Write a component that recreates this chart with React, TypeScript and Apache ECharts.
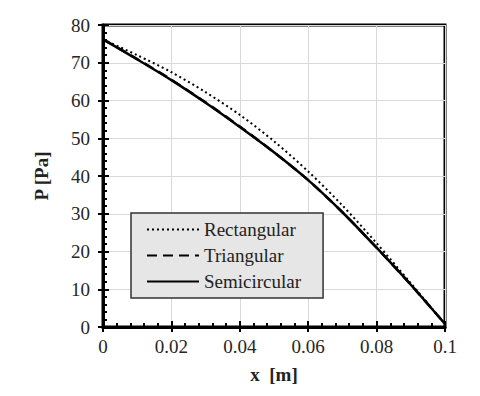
import React, { useEffect, useRef } from "react";
import * as echarts from "echarts";

const xValues = [0, 0.01, 0.02, 0.03, 0.04, 0.05, 0.06, 0.07, 0.08, 0.09, 0.1];
const rectangular = [76.2, 72.0, 67.5, 62.2, 56.2, 49.2, 41.2, 32.2, 22.2, 11.6, 0.8];
const triangular = [76.2, 71.0, 65.5, 59.5, 53.1, 46.3, 38.9, 30.4, 21.0, 11.2, 0.8];
const semicircular = [76.2, 70.9, 65.4, 59.4, 53.0, 46.3, 38.9, 30.4, 21.0, 11.2, 0.8];
const seriesNames = ["Rectangular", "Triangular", "Semicircular"];

const FONT = "'Liberation Serif', 'Times New Roman', serif";

export default function App() {
  const ref = useRef<HTMLDivElement>(null);
  useEffect(() => {
    document.body.style.margin = "0";
    const chart = echarts.init(ref.current!, null, { renderer: "svg" });
    const pairs = (ys: number[]) => xValues.map((x, i) => [x, ys[i]]);
    const tickLabel = { fontFamily: FONT, fontSize: 19, color: "#262626" };
    chart.setOption({
      animation: false,
      backgroundColor: "#fff",
      textStyle: { fontFamily: FONT },
      grid: {
        left: 103,
        right: 35,
        top: 25,
        bottom: 69,
        show: true,
        borderColor: "#000",
        borderWidth: 3,
      },
      legend: {
        left: 131,
        top: 213,
        orient: "vertical",
        backgroundColor: "#e6e6e6",
        borderColor: "#333",
        borderWidth: 1.5,
        borderRadius: 0,
        padding: [7, 22, 7, 15],
        itemGap: 7,
        itemWidth: 52,
        itemHeight: 14,
        itemStyle: { opacity: 0 },
        textStyle: { fontFamily: FONT, fontSize: 19, color: "#222" },
        data: seriesNames,
      },
      xAxis: [
        {
          type: "value",
          min: 0,
          max: 0.1,
          interval: 0.02,
          position: "bottom",
          name: "x  [m]",
          nameLocation: "middle",
          nameGap: 38,
          nameTextStyle: { fontFamily: FONT, fontSize: 19, fontWeight: "bold", color: "#222" },
          axisLine: { show: true, lineStyle: { color: "#000", width: 3 } },
          axisTick: { show: true, inside: false, length: 5, lineStyle: { color: "#000", width: 2 } },
          axisLabel: { ...tickLabel, margin: 10, formatter: (v: number) => String(+v.toFixed(2)) },
          splitLine: { show: true, lineStyle: { color: "#d9d9d9", width: 1 } },
        },
        {
          type: "value",
          min: 0,
          max: 0.1,
          interval: 0.02,
          position: "bottom",
          axisLine: { show: false },
          axisTick: { show: true, inside: true, length: 6, lineStyle: { color: "#000", width: 2 } },
          minorTick: { show: true, splitNumber: 5, length: 4, lineStyle: { color: "#000", width: 2 } },
          axisLabel: { show: false },
          splitLine: { show: false },
        },
      ],
      yAxis: [
        {
          type: "value",
          min: 0,
          max: 80,
          interval: 10,
          position: "left",
          name: "P [Pa]",
          nameLocation: "middle",
          nameGap: 52,
          nameRotate: 90,
          nameTextStyle: { fontFamily: FONT, fontSize: 19, fontWeight: "bold", color: "#222" },
          axisLine: { show: true, lineStyle: { color: "#000", width: 3 } },
          axisTick: { show: true, inside: false, length: 5, lineStyle: { color: "#000", width: 2 } },
          axisLabel: { ...tickLabel, margin: 13 },
          splitLine: { show: true, lineStyle: { color: "#d9d9d9", width: 1 } },
        },
        {
          type: "value",
          min: 0,
          max: 80,
          interval: 10,
          position: "left",
          axisLine: { show: false },
          axisTick: { show: true, inside: true, length: 6, lineStyle: { color: "#000", width: 2 } },
          minorTick: { show: true, splitNumber: 5, length: 4, lineStyle: { color: "#000", width: 2 } },
          axisLabel: { show: false },
          splitLine: { show: false },
        },
      ],
      series: [
        {
          name: seriesNames[0],
          type: "line",
          data: pairs(rectangular),
          smooth: 0.3,
          showSymbol: false,
          symbol: "none",
          lineStyle: { color: "#000", width: 2, type: [2, 3] },
          itemStyle: { color: "#000" },
          z: 3,
        },
        {
          name: seriesNames[1],
          type: "line",
          data: pairs(triangular),
          smooth: 0.3,
          showSymbol: false,
          symbol: "none",
          lineStyle: { color: "#000", width: 2.5, type: [10, 6] },
          itemStyle: { color: "#000" },
          z: 4,
        },
        {
          name: seriesNames[2],
          type: "line",
          data: pairs(semicircular),
          smooth: 0.3,
          showSymbol: false,
          symbol: "none",
          lineStyle: { color: "#000", width: 2.5, type: "solid" },
          itemStyle: { color: "#000" },
          z: 5,
        },
      ],
    });
    return () => chart.dispose();
  }, []);
  return <div ref={ref} style={{ width: 480, height: 396 }} />;
}
